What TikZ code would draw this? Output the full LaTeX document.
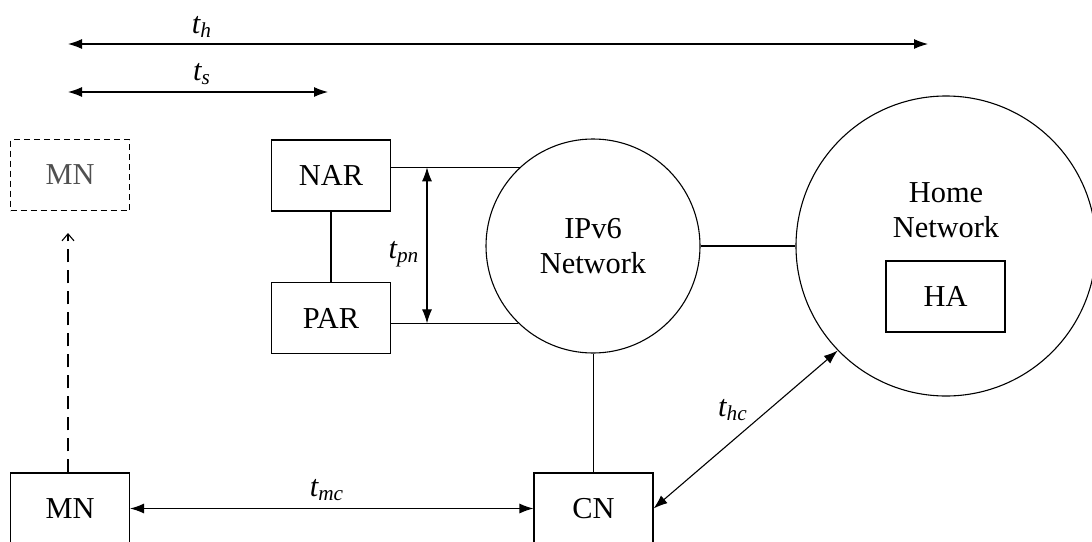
\documentclass[tikz,border=0pt]{standalone}
\usepackage{fontspec}
\setmainfont{Liberation Serif}
\usetikzlibrary{arrows.meta}
\definecolor{ghostgray}{HTML}{505050}
\newcommand{\tvar}[1]{\textit{t\textsubscript{#1}}}
\begin{document}
\begin{tikzpicture}[x=0.5pt,y=-0.5pt,
  every node/.style={font=\fontsize{15.2}{17.5}\selectfont},
  line width=0.55pt,
  box/.style={draw, minimum width=59.5pt, minimum height=35.5pt, inner sep=0pt},
  ghostbox/.style={box, dash pattern=on 3pt off 2pt, text=ghostgray},
  net/.style={draw, circle, inner sep=0pt, align=center},
  dim/.style={{Latex[length=7pt,width=5pt]}-{Latex[length=7pt,width=5pt]}},
  lbl/.style={inner sep=1pt}
]
\useasboundingbox (0,0) rectangle (1092,541);

% devices and routers
\node[ghostbox] (mnnew) at (70,175) {MN};
\node[box] (nar) at (331,175.5) {NAR};
\node[box] (par) at (331,318) {PAR};
\node[box] (mn) at (70,508.5) {MN};
\node[box] (cn) at (593.5,508.5) {CN};

% networks
\node[net, minimum size=107pt] (ipv6) at (593,246) {IPv6\\Network};
\node[net, minimum size=150pt] (home) at (946,246) {};
\node[align=center] (homelbl) at (946,210) {Home\\Network};
\node[box] (ha) at (945.5,296.5) {HA};

% links
\draw (nar) -- (par);
\draw (nar.east |- ipv6.133) -- (ipv6.133);
\draw (par.east |- ipv6.226) -- (ipv6.226);
\draw (ipv6) -- (home);
\draw (cn.north) -- (cn.north |- ipv6.south);

% movement of the mobile node
\coordinate (mvtip) at (68,233);
\draw[dash pattern=on 6.5pt off 4pt, -{Straight Barb[length=3.5pt,width=6pt]}]
  (mn.north -| mvtip) -- (mvtip);

% delay annotations
\coordinate (hL) at (68,44);
\coordinate (hR) at (928,44);
\coordinate (sL) at (68,92);
\coordinate (sR) at (328,92);
\draw[dim] (hL) -- (hR);
\draw[dim] (sL) -- (sR);
\node[lbl] (th) at (202,27) {\tvar{h}};
\node[lbl] (ts) at (202,74) {\tvar{s}};

\coordinate (pnT) at (427,0);
\draw[dim] (pnT |- ipv6.133) -- (pnT |- ipv6.226);
\node[lbl] (tpn) at (404,254) {\tvar{pn}};

\draw[dim] (mn) -- (cn);
\node[lbl] (tmc) at (327,490) {\tvar{mc}};

\draw[dim] (cn.east) -- (home.224);
\node[lbl] (thc) at (733,410) {\tvar{hc}};
\end{tikzpicture}
\end{document}
